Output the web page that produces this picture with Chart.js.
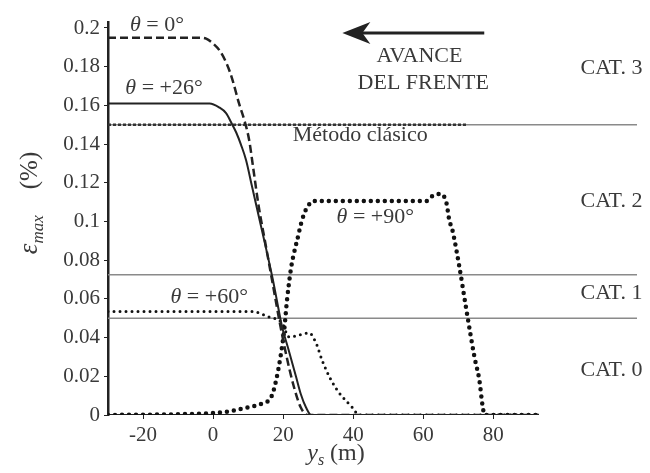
<!DOCTYPE html>
<html>
<head>
<meta charset="utf-8">
<script src="https://cdn.jsdelivr.net/npm/chart.js@4"></script>
<style>
  html, body { margin: 0; padding: 0; background: #fff; }
  #wrap { width: 650px; height: 473px; }
</style>
</head>
<body>
<div id="wrap"><canvas id="chart" width="650" height="473"></canvas></div>
<script>
// valores (y_s en m, eps_max en %)
const xTheta0 = [-30, -4, -2, 0, 2, 4, 5.4, 7.4, 8.9, 10.3, 11.5, 13, 15, 17, 19, 21, 23, 25, 27, 93];
const yTheta0 = [0.195, 0.195, 0.1945, 0.192, 0.188, 0.181, 0.174, 0.161, 0.1525, 0.142, 0.127, 0.108, 0.088, 0.068, 0.048, 0.030, 0.015, 0.004, 0, 0];

const xTheta26 = [-30, -1, 1.7, 3.7, 5.1, 6.6, 8, 9.4, 11, 13, 15, 16.9, 18, 19.7, 21.5, 23.7, 25, 26.5, 28, 93];
const yTheta26 = [0.161, 0.161, 0.159, 0.156, 0.1514, 0.146, 0.1395, 0.1318, 0.119, 0.103, 0.087, 0.0713, 0.0612, 0.0455, 0.034, 0.0196, 0.011, 0.004, 0, 0];

const xTheta90 = [-30, 0, 5, 10, 14, 16.6, 18, 19.4, 20.3, 21.1, 22.3, 23.1, 24, 25.4, 26.9, 28.9, 40, 55, 60.9, 62.6, 64.9, 66.6, 67.4, 68.3, 70.3, 72.3, 74.6, 76, 76.9, 77.5, 93];
const yTheta90 = [0, 0.001, 0.002, 0.004, 0.006, 0.0093, 0.018, 0.032, 0.044, 0.0594, 0.0765, 0.0837, 0.0904, 0.1008, 0.1075, 0.1106, 0.1106, 0.1106, 0.1106, 0.1132, 0.1142, 0.1096, 0.1008, 0.0956, 0.0765, 0.0543, 0.030, 0.018, 0.005, 0, 0];

const xTheta60 = [-30, 11, 16, 19.7, 21.7, 24.6, 27.4, 29.4, 31.1, 33.7, 36, 39.7, 41.7, 93];
const yTheta60 = [0.0535, 0.0535, 0.0506, 0.0475, 0.0403, 0.0413, 0.0424, 0.0372, 0.0284, 0.018, 0.0114, 0.004, 0, 0];

// límites de categoría y método clásico
const catLimits = [0.15, 0.0725, 0.05];
const classicValue = 0.15;
const classicEnd = 72.6;
const lineStart = -30;
const lineEnd = 121;
const axisEnd = 93;

const catLabels = ['CAT. 3', 'CAT. 2', 'CAT. 1', 'CAT. 0'];
const catLabelY = [0.1793, 0.1106, 0.063, 0.0233];
const catLabelX = 113.7;

const xTicks = [-20, 0, 20, 40, 60, 80];

const toPts = (xs, ys) => xs.map((x, i) => ({ x: x, y: ys[i] }));

const SERIF = '"Liberation Serif", "Times New Roman", serif';
const INK = '#222';
const TXT = '#3a3a3a';

// dibuja texto por partes (cursiva / subíndice / hueco)
function drawParts(ctx, parts, x, y, align) {
    const w = p => {
        if (p.gap) return p.gap;
        ctx.font = p.font;
        return ctx.measureText(p.t).width;
    };
    let total = 0;
    parts.forEach(p => { total += w(p); });
    let cx = align === 'center' ? x - total / 2 : x;
    parts.forEach(p => {
        if (!p.gap) {
            ctx.font = p.font;
            ctx.fillText(p.t, cx, y + (p.dy || 0));
        }
        cx += w(p);
    });
}

const it = (s) => 'italic ' + s + 'px ' + SERIF;
const rm = (s) => s + 'px ' + SERIF;

const notes = [
    { x: -16, y: 0.2016, parts: [{ t: 'θ', font: it(22) }, { t: ' = 0°', font: rm(22) }] },
    { x: -14, y: 0.169, parts: [{ t: 'θ', font: it(22) }, { t: ' = +26°', font: rm(22) }] },
    { x: 42, y: 0.1447, parts: [{ t: 'Método clásico', font: rm(22) }] },
    { x: 46.3, y: 0.1023, parts: [{ t: 'θ', font: it(22) }, { t: ' = +90°', font: rm(22) }] },
    { x: -1.1, y: 0.061, parts: [{ t: 'θ', font: it(22) }, { t: ' = +60°', font: rm(22) }] },
    { x: 58.9, y: 0.1855, parts: [{ t: 'AVANCE', font: rm(22) }] },
    { x: 60, y: 0.1716, parts: [{ t: 'DEL FRENTE', font: rm(22) }] }
];

const annotPlugin = {
    id: 'annot',
    afterDraw(chart) {
        const ctx = chart.ctx;
        const xs = chart.scales.x, ys = chart.scales.y;
        ctx.save();
        ctx.fillStyle = TXT;
        ctx.textBaseline = 'middle';
        notes.forEach(n => {
            drawParts(ctx, n.parts, xs.getPixelForValue(n.x), ys.getPixelForValue(n.y), 'center');
        });
        catLabels.forEach((c, i) => {
            drawParts(ctx, [{ t: c, font: rm(22) }], xs.getPixelForValue(catLabelX), ys.getPixelForValue(catLabelY[i]), 'center');
        });

        // flecha "avance del frente"
        const ay = ys.getPixelForValue(0.1974);
        const tail = xs.getPixelForValue(77.4);
        const tip = xs.getPixelForValue(36.9);
        ctx.strokeStyle = INK;
        ctx.fillStyle = INK;
        ctx.lineWidth = 3;
        ctx.beginPath();
        ctx.moveTo(tail, ay);
        ctx.lineTo(tip + 18, ay);
        ctx.stroke();
        ctx.beginPath();
        ctx.moveTo(tip, ay);
        ctx.lineTo(tip + 28, ay - 11);
        ctx.lineTo(tip + 20, ay);
        ctx.lineTo(tip + 28, ay + 11);
        ctx.closePath();
        ctx.fill();

        // títulos de ejes
        ctx.fillStyle = TXT;
        ctx.textBaseline = 'alphabetic';
        drawParts(ctx, [
            { t: 'y', font: it(24) },
            { t: 's', font: it(16), dy: 5 },
            { t: ' (m)', font: rm(24) }
        ], 336, 460, 'center');

        ctx.translate(37, 203);
        ctx.rotate(-Math.PI / 2);
        drawParts(ctx, [
            { t: 'ε', font: it(27) },
            { t: 'max', font: it(17), dy: 6 },
            { gap: 26 },
            { t: '(%)', font: rm(25) }
        ], 0, 0, 'center');
        ctx.restore();
    }
};

const grayLine = (y, x1, x2) => ({
    data: [{ x: x1, y: y }, { x: x2, y: y }],
    borderColor: '#8a8a8a',
    borderWidth: 1.5,
    pointRadius: 0,
    order: 10
});

const datasets = [
    {
        label: 'θ = 0°',
        data: toPts(xTheta0, yTheta0),
        borderColor: INK,
        borderWidth: 2.5,
        borderDash: [8, 4],
        cubicInterpolationMode: 'monotone',
        pointRadius: 0,
        order: 1
    },
    {
        label: 'θ = +26°',
        data: toPts(xTheta26, yTheta26),
        borderColor: INK,
        borderWidth: 2,
        cubicInterpolationMode: 'monotone',
        pointRadius: 0,
        order: 1
    },
    {
        label: 'θ = +90°',
        data: toPts(xTheta90, yTheta90),
        borderColor: '#111',
        borderWidth: 4.5,
        borderDash: [0, 7],
        borderCapStyle: 'round',
        cubicInterpolationMode: 'monotone',
        pointRadius: 0,
        order: 1
    },
    {
        label: 'θ = +60°',
        data: toPts(xTheta60, yTheta60),
        borderColor: '#111',
        borderWidth: 3,
        borderDash: [0, 6],
        borderCapStyle: 'round',
        cubicInterpolationMode: 'monotone',
        pointRadius: 0,
        order: 1
    },
    {
        label: 'Método clásico',
        data: [{ x: lineStart, y: classicValue }, { x: classicEnd, y: classicValue }],
        borderColor: '#333',
        borderWidth: 2.5,
        borderDash: [3, 2],
        pointRadius: 0,
        order: 2
    },
    // eje x (sólo hasta ~93 m)
    {
        label: 'eje',
        data: [{ x: lineStart, y: 0 }, { x: axisEnd, y: 0 }],
        borderColor: INK,
        borderWidth: 2,
        pointRadius: 0,
        order: 3
    }
].concat(catLimits.map(v => grayLine(v, lineStart, lineEnd)));

new Chart(document.getElementById('chart'), {
    type: 'line',
    data: { datasets: datasets },
    options: {
        responsive: false,
        animation: false,
        layout: { padding: { left: 0, right: 13, top: 22, bottom: 0 } },
        plugins: {
            legend: { display: false },
            tooltip: { enabled: false }
        },
        scales: {
            x: {
                type: 'linear',
                min: lineStart,
                max: lineEnd,
                border: { display: false },
                grid: { drawOnChartArea: false, tickLength: 4, color: INK },
                ticks: {
                    stepSize: 20,
                    padding: 4,
                    color: TXT,
                    maxRotation: 0,
                    font: { family: SERIF, size: 21 }
                },
                afterBuildTicks(scale) {
                    scale.ticks = xTicks.map(v => ({ value: v }));
                },
                afterFit(scale) { scale.height = 58; }
            },
            y: {
                min: 0,
                max: 0.2031,
                border: { display: true, color: INK, width: 2.5 },
                grid: { drawOnChartArea: false, tickLength: 4, color: INK },
                ticks: {
                    stepSize: 0.02,
                    includeBounds: false,
                    padding: 4,
                    color: TXT,
                    font: { family: SERIF, size: 21 },
                    callback: v => parseFloat(v.toFixed(2)).toString()
                },
                afterFit(scale) { scale.width = 108; }
            }
        }
    },
    plugins: [annotPlugin]
});
</script>
</body>
</html>
